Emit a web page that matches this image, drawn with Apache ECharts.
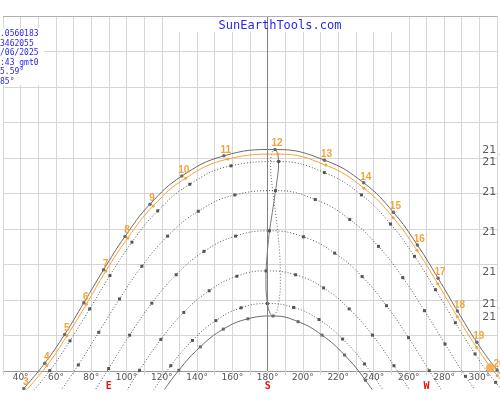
<!DOCTYPE html>
<html>
<head>
<meta charset="utf-8">
<script src="https://cdn.jsdelivr.net/npm/echarts@6/dist/echarts.min.js"></script>
<style>
html, body { margin: 0; padding: 0; background: #fff; }
#chart { width: 500px; height: 400px; }
</style>
</head>
<body>
<div id="chart"></div>
<script>
// sun path: [azimuth, elevation], one point per hour (UTC)
const hours = [3, 4, 5, 6, 7, 8, 9, 10, 11, 12, 13, 14, 15, 16, 17, 18, 19, 20, 21];
const jun21 = [[42.3,-4.9],[54.1,2.2],[65.3,10.3],[76.1,19.2],[87.2,28.5],[99.3,37.9],[113.4,47.0],[131.3,54.9],[155.0,60.6],[183.8,62.4],[211.7,59.4],[233.8,53.0],[250.5,44.7],[264.0,35.5],[275.7,26.1],[286.6,16.9],[297.5,8.1],[308.9,0.3],[320.9,-6.4]];
const today = [[43.5,-5.5],[55.3,1.5],[66.6,9.9],[77.5,18.8],[88.6,28.2],[100.9,37.5],[115.2,46.5],[133.4,54.3],[157.2,59.7],[185.4,61.1],[212.4,58.0],[233.9,51.5],[250.4,43.2],[263.8,34.0],[275.5,24.6],[286.5,15.3],[297.5,6.6],[309.0,-1.3],[321.2,-7.9]];
const may21 = [[44.9,-7.2],[56.9,0.1],[68.3,8.5],[79.4,17.5],[90.8,26.9],[103.2,36.3],[117.7,45.1],[135.8,52.6],[159.0,57.8],[185.9,59.0],[211.6,55.9],[232.5,49.6],[248.9,41.4],[262.4,32.3],[274.2,22.9],[285.4,13.6],[296.5,4.8],[308.1,-3.2],[320.6,-9.9]];
const apr21 = [[61.1,-7.0],[73.0,1.7],[84.5,10.9],[96.2,20.3],[108.8,29.5],[123.3,38.0],[140.6,45.0],[161.2,49.6],[184.1,50.8],[206.5,48.3],[225.9,42.7],[242.1,35.1],[255.8,26.3],[268.0,17.0],[279.6,7.6],[291.1,-1.5],[303.3,-9.9]];
const mar21 = [[78.4,-8.6],[90.1,0.7],[101.9,10.1],[114.4,19.1],[128.1,27.1],[143.8,33.7],[161.6,38.0],[180.7,39.5],[199.8,37.8],[217.4,33.2],[232.9,26.6],[246.6,18.4],[259.0,9.4],[270.7,0.1],[282.5,-9.3]];
const feb21 = [[96.0,-9.0],[107.5,0.2],[119.5,8.9],[132.4,16.5],[146.7,22.6],[162.3,26.7],[178.8,28.2],[195.4,27.1],[211.2,23.4],[225.6,17.5],[238.7,10.1],[250.8,1.5],[262.4,-7.6]];
const jan21 = [[113.6,-6.7],[125.1,1.5],[137.3,8.6],[150.5,14.2],[164.7,17.8],[179.5,19.0],[194.3,17.9],[208.6,14.5],[221.9,9.0],[234.2,2.0],[245.7,-6.1]];
const dec21 = [[118.2,-7.6],[129.6,0.2],[141.7,6.8],[154.7,11.8],[168.5,14.7],[182.7,15.5],[196.8,13.9],[210.3,10.1],[223.0,4.5],[234.8,-2.6],[245.9,-10.8]];

// analemma at 12:00
const analemmaJanJun = [[181.4,15.9],[180.0,17.7],[178.9,21.7],[178.7,24.6],[178.9,29.6],[179.7,34.6],[180.7,39.5],[181.9,43.4],[183.5,48.7],[185.0,53.9],[185.8,57.5],[185.5,60.9],[184.5,62.1],[183.8,62.4]];
const analemmaJulDec = [[183.8,62.4],[182.7,62.0],[181.6,60.4],[181.3,58.4],[181.7,54.4],[182.8,49.7],[183.4,47.2],[184.8,41.9],[185.4,38.9],[186.0,35.8],[186.7,30.4],[186.8,23.6],[186.2,20.3],[185.0,17.1],[183.4,15.6],[182.7,15.5],[181.5,15.8],[181.4,15.9]];

const sunNow = [305.1, 0.9];
const dateTags = ['21 jun', '21 may', '21 apr', '21 mar', '21 feb', '21 jan', '21 dec'];
const infoLines = ['.0560183', '3462055', '/06/2025', ':43 gmt0', '5.59°', '85°'];
const compass = { 90: 'E', 180: 'S', 270: 'W' };

const orange = '#f4a23a';
const dark = '#555';
const gridColor = '#d6d6d6';

const myChart = echarts.init(document.getElementById('chart'));

function path(data, color, dash, symbol, size, extra) {
  return Object.assign({
    type: 'line',
    xAxisIndex: 1,
    yAxisIndex: 1,
    data: data,
    smooth: 0.45,
    symbol: symbol,
    symbolSize: size,
    showSymbol: symbol !== 'none',
    itemStyle: { color: color },
    lineStyle: { color: color, width: 1, type: dash },
    emphasis: { disabled: true },
    z: 3
  }, extra || {});
}

const dayPaths = [jun21, may21, apr21, mar21, feb21, jan21, dec21];
const peaks = dayPaths.map(function (d) {
  return d.reduce(function (m, p) { return p[1] > m ? p[1] : m; }, -90);
});

const option = {
  animation: false,
  grid: [
    { left: 2, right: 1, top: 16, bottom: 29 },
    { left: 2, right: 1, top: 16, bottom: 11 }
  ],
  xAxis: [
    {
      type: 'value', gridIndex: 0, min: 30, max: 310, interval: 10,
      axisLine: { onZero: false, lineStyle: { color: '#999' } },
      axisTick: { length: 4, lineStyle: { color: gridColor } },
      splitLine: { lineStyle: { color: gridColor } },
      axisLabel: {
        margin: 2,
        formatter: function (v) {
          const num = v % 20 === 0 ? v + '°' : '';
          if (compass[v]) return '{n|' + (num || ' ') + '}\n{d|' + compass[v] + '}';
          return num ? '{n|' + num + '}' : '';
        },
        rich: {
          n: { fontSize: 9, color: '#555', lineHeight: 9, fontFamily: 'DejaVu Sans' },
          d: { fontSize: 10, color: '#e81010', fontWeight: 'bold', lineHeight: 8, fontFamily: 'DejaVu Sans Mono' }
        }
      }
    },
    { type: 'value', gridIndex: 1, min: 30, max: 310, show: false }
  ],
  yAxis: [
    {
      type: 'value', gridIndex: 0, min: 0, max: 100, interval: 10,
      axisLine: { show: false }, axisTick: { show: false }, axisLabel: { show: false },
      splitLine: { lineStyle: { color: gridColor } }
    },
    { type: 'value', gridIndex: 1, min: -5.07, max: 100, show: false }
  ],
  graphic: [
    { type: 'rect', z: 5, shape: { x: 0, y: 28, width: 44, height: 57 }, style: { fill: '#fff' } },
    { type: 'rect', z: 5, shape: { x: 170, y: 17, width: 222, height: 15 }, style: { fill: '#fff' } },
    {
      type: 'text', z: 6,
      style: { text: 'SunEarthTools.com', x: 280, y: 26, align: 'center', verticalAlign: 'middle',
        font: '12px "DejaVu Sans Mono"', fill: '#2828f0' }
    },
    {
      type: 'text', z: 6,
      style: { text: infoLines.join('\n'), x: 0, y: 29.5, lineHeight: 9.5, verticalAlign: 'top',
        font: '8px "DejaVu Sans Mono"', fill: '#2828f0' }
    }
  ],
  series: [
    {
      type: 'line', xAxisIndex: 0, yAxisIndex: 0, data: [[180, -50]], symbol: 'none',
      markLine: {
        silent: true, symbol: 'none', label: { show: false },
        data: [
          { xAxis: 180, lineStyle: { color: '#808080', type: 'solid', width: 1 } },
          { yAxis: 100, lineStyle: { color: '#b0b0b0', type: 'solid', width: 1 } }
        ]
      }
    },
    path(analemmaJanJun, '#777', 'solid', 'none', 0, { smooth: 0.3 }),
    path(analemmaJulDec, '#666', [1, 2], 'none', 0, { smooth: 0.3 }),
    path(dec21, '#6a6a6a', 'solid', 'rect', 3),
    path(jan21, dark, [1, 2], 'rect', 3),
    path(feb21, dark, [1, 2], 'rect', 3),
    path(mar21, dark, [1, 2], 'rect', 3),
    path(apr21, dark, [1, 2], 'rect', 3),
    path(may21, dark, [1, 2], 'rect', 3),
    path(today, orange, 'solid', 'circle', 3),
    path(jun21, '#6a6a6a', 'solid', 'circle', 3.5, {
      label: {
        show: true, position: 'top', distance: 0, offset: [2, 1], color: orange,
        fontSize: 10, fontWeight: 'bold', fontFamily: 'Liberation Sans',
        formatter: function (p) { return hours[p.dataIndex]; }
      }
    }),
    {
      type: 'scatter', xAxisIndex: 1, yAxisIndex: 1, symbolSize: 9,
      itemStyle: { color: orange }, data: [sunNow], z: 4, emphasis: { disabled: true }
    },
    {
      type: 'scatter', xAxisIndex: 1, yAxisIndex: 1, symbolSize: 0, z: 4,
      data: peaks.map(function (e) { return [300.6, e]; }),
      label: {
        show: true, position: 'right', distance: 0, offset: [0, 1], color: '#333',
        fontSize: 11, fontFamily: 'DejaVu Sans',
        formatter: function (p) { return dateTags[p.dataIndex]; }
      }
    }
  ]
};

myChart.setOption(option);
</script>
</body>
</html>
